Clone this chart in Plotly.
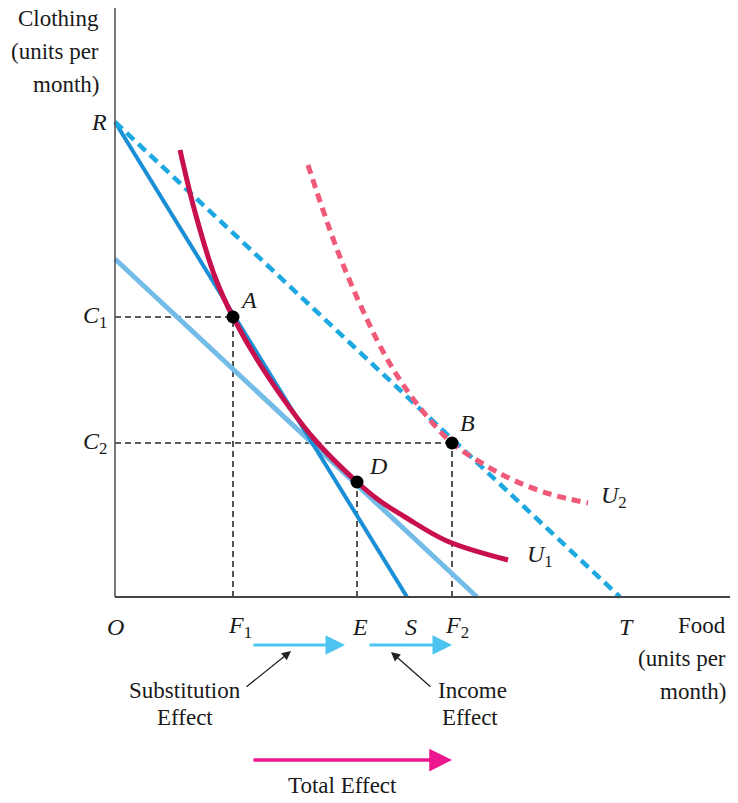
import plotly.graph_objects as go

# ---- data (units: food on x, clothing on y) ----
R_clothing = 475
S_food = 292
T_food = 505
light_intercept_y = 338
light_intercept_x = 362

A_pt = (118, 280)
B_pt = (337, 154)
D_pt = (242, 115)

food_tick_names = ["<i>O</i>", "<i>F</i><sub>1</sub>", "<i>E</i>", "<i>S</i>", "<i>F</i><sub>2</sub>", "<i>T</i>"]
food_tick_vals = [0, 118, 242, 292, 337, 505]
cloth_tick_names = ["<i>R</i>", "<i>C</i><sub>1</sub>", "<i>C</i><sub>2</sub>"]
cloth_tick_vals = [475, 280, 154]

u1_x = [65, 80, 100, 118, 150, 200, 242, 265, 290, 332, 393]
u1_y = [447, 385, 320, 280, 225, 157, 115, 96, 80, 56, 37]

u2_x = [193, 225, 262, 285, 310, 337, 370, 398, 435, 473]
u2_y = [432, 340, 257, 217, 183, 154, 132, 117, 103, 94]

sub_arrow = (137, 230)
inc_arrow = (253, 337)
tot_arrow = (137, 337)

SERIF = "Liberation Serif"

fig = go.Figure()

# helper dashed lines
def dline(x0, y0, x1, y1):
    fig.add_trace(go.Scatter(x=[x0, x1], y=[y0, y1], mode="lines",
                             line=dict(color="#2a2a2a", width=1.6, dash="6px,4px"),
                             hoverinfo="skip"))

dline(0, A_pt[1], A_pt[0], A_pt[1])
dline(A_pt[0], 0, A_pt[0], A_pt[1])
dline(0, B_pt[1], B_pt[0], B_pt[1])
dline(B_pt[0], 0, B_pt[0], B_pt[1])
dline(D_pt[0], 0, D_pt[0], D_pt[1])

# budget lines
fig.add_trace(go.Scatter(x=[0, light_intercept_x], y=[light_intercept_y, 0], mode="lines",
                         line=dict(color="#74bce8", width=5)))
fig.add_trace(go.Scatter(x=[0, S_food], y=[R_clothing, 0], mode="lines",
                         line=dict(color="#1b8fd6", width=4)))
fig.add_trace(go.Scatter(x=[0, T_food], y=[R_clothing, 0], mode="lines",
                         line=dict(color="#1ea8e2", width=4.5, dash="10px,6px")))

# indifference curves
fig.add_trace(go.Scatter(x=u1_x, y=u1_y, mode="lines",
                         line=dict(color="#c8104e", width=5, shape="spline", smoothing=1.0)))
fig.add_trace(go.Scatter(x=u2_x, y=u2_y, mode="lines",
                         line=dict(color="#f05a78", width=5, dash="9px,6px",
                                   shape="spline", smoothing=1.0)))

# points
fig.add_trace(go.Scatter(x=[A_pt[0], B_pt[0], D_pt[0]], y=[A_pt[1], B_pt[1], D_pt[1]],
                         mode="markers", marker=dict(color="black", size=13)))

# axes
shapes = [
    dict(type="line", x0=0, y0=0, x1=0, y1=589, xref="x", yref="y",
         line=dict(color="#555", width=1.6)),
    dict(type="line", x0=0, y0=0, x1=615, y1=0, xref="x", yref="y",
         line=dict(color="#444", width=2)),
]

ann = []
def lab(x, y, t, size=24, xanchor="center"):
    ann.append(dict(x=x, y=y, xref="x", yref="y", text=t, showarrow=False,
                    xanchor=xanchor, yanchor="middle",
                    font=dict(family=SERIF, size=size, color="#1a1a1a")))

# axis titles
for i, t in enumerate(["Clothing", "(units per", "month)"]):
    lab(-14, 579 - 33 * i, t, size=23, xanchor="right")
for i, t in enumerate(["Food", "(units per", "month)"]):
    lab(613, -28 - 33 * i, t, size=23, xanchor="right")

# tick labels
food_offsets = [0, 7, 3, 4, 5, 6]
for n, v, o in zip(food_tick_names, food_tick_vals, food_offsets):
    lab(v + o, -30, n)
for n, v in zip(cloth_tick_names, cloth_tick_vals):
    lab(-6, v, n, xanchor="right")

# point labels
lab(A_pt[0] + 15, A_pt[1] + 17, "<i>A</i>")
lab(B_pt[0] + 15, B_pt[1] + 20, "<i>B</i>")
lab(D_pt[0] + 21, D_pt[1] + 16, "<i>D</i>")
lab(393 + 17, 41, "<i>U</i><sub>1</sub>", xanchor="left")
lab(473 + 11, 100, "<i>U</i><sub>2</sub>", xanchor="left")

# effect arrows
def arrow(x0, x1, y, color, width):
    ann.append(dict(x=x1, y=y, ax=x0, ay=y, xref="x", yref="y", axref="x", ayref="y",
                    text="", showarrow=True, arrowhead=2, arrowsize=1.3,
                    arrowwidth=width, arrowcolor=color))

arrow(sub_arrow[0], sub_arrow[1], -48, "#4cc3f0", 3)
arrow(inc_arrow[0], inc_arrow[1], -48, "#4cc3f0", 3)
arrow(tot_arrow[0], tot_arrow[1], -163, "#ec178c", 3.5)

# pointer arrows
def pointer(x0, y0, x1, y1):
    ann.append(dict(x=x1, y=y1, ax=x0, ay=y0, xref="x", yref="y", axref="x", ayref="y",
                    text="", showarrow=True, arrowhead=2, arrowsize=1.4,
                    arrowwidth=1.3, arrowcolor="#222"))

pointer(130, -91, 176, -54)
pointer(317, -91, 276, -55)

lab(70, -93, "Substitution", size=23)
lab(70, -120, "Effect", size=23)
lab(357, -93, "Income", size=23)
lab(355, -120, "Effect", size=23)
lab(227, -188, "Total Effect", size=23)

fig.update_layout(
    width=738, height=803, autosize=False,
    margin=dict(l=0, r=0, t=0, b=0),
    paper_bgcolor="white", plot_bgcolor="white",
    showlegend=False,
    xaxis=dict(range=[-115, 623], visible=False, fixedrange=True),
    yaxis=dict(range=[-206, 597], visible=False, fixedrange=True),
    shapes=shapes, annotations=ann,
)

fig.write_html("out.html",
               config={"displayModeBar": False},
               post_script="document.body.style.margin='0px';document.body.style.overflow='hidden';")
